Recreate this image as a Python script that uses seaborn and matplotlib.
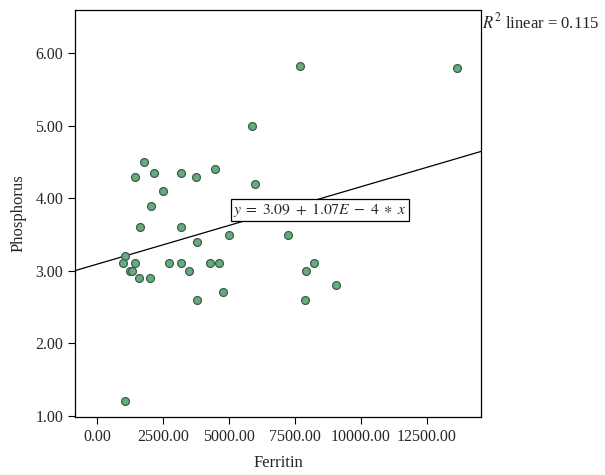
import numpy as np
import pandas as pd
import seaborn as sns
import matplotlib.pyplot as plt
from matplotlib.ticker import FormatStrFormatter

# values
ferritin = [1060, 1070, 1000, 1440, 1250, 1330, 1780, 1440, 2150, 3190, 3740, 4460,
            6000, 2510, 2060, 1640, 3190, 3810, 4990, 7230, 2740, 3170, 3470, 4270,
            4640, 1610, 2000, 4790, 3810, 7690, 13650, 5860, 8220, 7920, 9050, 7870]
phosphorus = [1.2, 3.2, 3.1, 3.1, 3.0, 3.0, 4.5, 4.3, 4.35, 4.35, 4.3, 4.4,
              4.2, 4.1, 3.9, 3.6, 3.6, 3.4, 3.5, 3.5, 3.1, 3.1, 3.0, 3.1,
              3.1, 2.9, 2.9, 2.7, 2.6, 5.82, 5.8, 5.0, 3.1, 3.0, 2.8, 2.6]
intercept = 3.09
slope = 1.07e-4
r2 = 0.115
x_ticks = [0, 2500, 5000, 7500, 10000, 12500]
y_ticks = [1, 2, 3, 4, 5, 6]

df = pd.DataFrame({"Ferritin": ferritin, "Phosphorus": phosphorus})

sns.set_style("white")
plt.rcParams["font.family"] = ["Liberation Serif", "DejaVu Serif"]
plt.rcParams["mathtext.fontset"] = "stix"

fig = plt.figure(figsize=(6.05, 4.75), dpi=100)
ax = fig.add_axes([0.124, 0.122, 0.671, 0.857])

sns.scatterplot(data=df, x="Ferritin", y="Phosphorus", ax=ax, color="#66ac80",
                edgecolor="#3a5e46", linewidth=0.9, s=32, zorder=3)
ax.axline((0, intercept), slope=slope, color="black", lw=0.9, zorder=2)

ax.set_xlim(-830, 14550)
ax.set_ylim(0.98, 6.6)
ax.set_xticks(x_ticks)
ax.set_yticks(y_ticks)
ax.xaxis.set_major_formatter(FormatStrFormatter("%.2f"))
ax.yaxis.set_major_formatter(FormatStrFormatter("%.2f"))
ax.tick_params(axis="both", direction="out", length=5, width=0.8, labelsize=11.5,
               bottom=True, left=True, color="black")
for sp in ax.spines.values():
    sp.set_color("black")
    sp.set_linewidth(0.9)

ax.set_xlabel("Ferritin", fontsize=12, labelpad=7)
ax.set_ylabel("Phosphorus", fontsize=12, labelpad=6)

ax.text(8450, 3.84, r"$y\;=\;3.09\;+\;1.07E\;-\;4\;\ast\;x$", fontsize=11.3, ha="center",
        va="center", bbox=dict(boxstyle="square,pad=0.15", fc="white", ec="black", lw=0.9),
        zorder=4)
fig.text(0.797, 0.953, r"$R^2$ linear = %.3f" % r2, fontsize=12, ha="left", va="center")

fig.savefig("out.png", dpi=100)
